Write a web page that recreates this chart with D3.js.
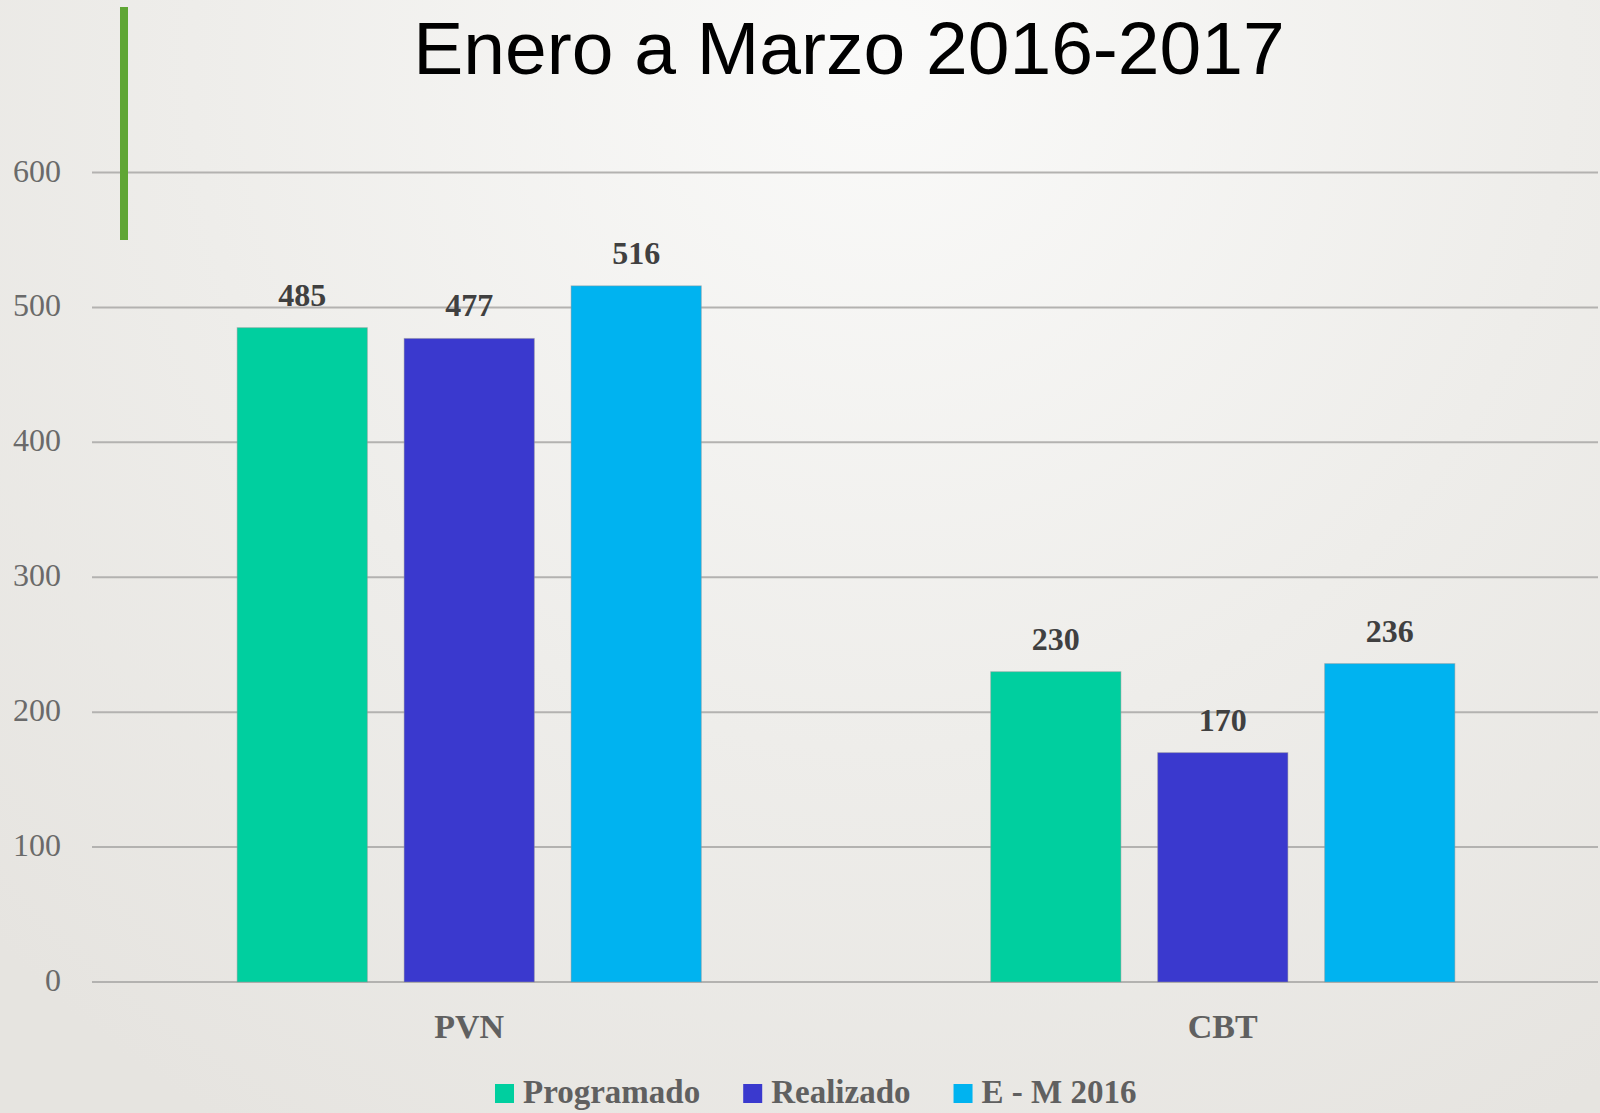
<!DOCTYPE html>
<html>
<head>
<meta charset="utf-8">
<script src="https://cdnjs.cloudflare.com/ajax/libs/d3/7.8.5/d3.min.js"></script>
<style>
  html, body { margin: 0; padding: 0; overflow: hidden; }
  svg { display: block; }
</style>
</head>
<body>
<div id="chart"></div>
<script>
var categories = ["PVN", "CBT"];
var series = ["Programado", "Realizado", "E - M 2016"];
var programado = [485, 230];
var realizado = [477, 170];
var em2016 = [516, 236];
var yTicks = [0, 100, 200, 300, 400, 500, 600];
var colors = ["#00CF9F", "#3A39CE", "#00B3F0"];

var width = 1600, height = 1113;
var values = [programado, realizado, em2016];

var svg = d3.select("#chart").append("svg")
    .attr("width", width)
    .attr("height", height);

// background, lighter near the top centre
var defs = svg.append("defs");
var grad = defs.append("radialGradient")
    .attr("id", "bg")
    .attr("gradientUnits", "userSpaceOnUse")
    .attr("cx", 880).attr("cy", 60).attr("r", 1250);
grad.append("stop").attr("offset", "0%").attr("stop-color", "#fafaf9");
grad.append("stop").attr("offset", "55%").attr("stop-color", "#eeedea");
grad.append("stop").attr("offset", "100%").attr("stop-color", "#e6e4e0");

svg.append("rect")
    .attr("width", width).attr("height", height)
    .attr("fill", "url(#bg)");

var x0 = d3.scaleBand()
    .domain(categories)
    .range([92, 1600])
    .paddingInner(0.384)
    .paddingOuter(0.1926);

var x1 = d3.scaleBand()
    .domain(series)
    .range([0, x0.bandwidth()])
    .paddingInner(0.22);

var y = d3.scaleLinear()
    .domain([0, 600])
    .range([982, 172.5]);

// gridlines
svg.append("g").selectAll("line")
    .data(yTicks)
    .enter().append("line")
    .attr("x1", 92).attr("x2", 1598)
    .attr("y1", function(d) { return y(d); })
    .attr("y2", function(d) { return y(d); })
    .attr("stroke", "#b3b2b0")
    .attr("stroke-width", 2);

// y tick labels
svg.append("g").selectAll("text")
    .data(yTicks)
    .enter().append("text")
    .attr("x", 61)
    .attr("y", function(d) { return y(d) + 9; })
    .attr("text-anchor", "end")
    .attr("font-family", "Liberation Serif, serif")
    .attr("font-size", 32)
    .attr("fill", "#6a6a6a")
    .text(function(d) { return d; });

// bars
var groups = svg.append("g").selectAll("g")
    .data(categories)
    .enter().append("g")
    .attr("transform", function(d) { return "translate(" + x0(d) + ",0)"; });

groups.selectAll("rect")
    .data(function(d, i) {
      return series.map(function(s, j) { return { s: s, v: values[j][i], c: colors[j] }; });
    })
    .enter().append("rect")
    .attr("x", function(d) { return x1(d.s); })
    .attr("y", function(d) { return y(d.v); })
    .attr("width", x1.bandwidth())
    .attr("height", function(d) { return y(0) - y(d.v); })
    .attr("fill", function(d) { return d.c; })
    .attr("stroke", "rgba(150,150,150,0.45)")
    .attr("stroke-width", 1);

groups.selectAll("text")
    .data(function(d, i) {
      return series.map(function(s, j) { return { s: s, v: values[j][i] }; });
    })
    .enter().append("text")
    .attr("x", function(d) { return x1(d.s) + x1.bandwidth() / 2; })
    .attr("y", function(d) { return y(d.v) - 22; })
    .attr("text-anchor", "middle")
    .attr("font-family", "Liberation Serif, serif")
    .attr("font-weight", "bold")
    .attr("font-size", 32)
    .attr("fill", "#404040")
    .text(function(d) { return d.v; });

// category labels
svg.append("g").selectAll("text")
    .data(categories)
    .enter().append("text")
    .attr("x", function(d) { return x0(d) + x0.bandwidth() / 2; })
    .attr("y", 1038)
    .attr("text-anchor", "middle")
    .attr("font-family", "Liberation Serif, serif")
    .attr("font-weight", "bold")
    .attr("font-size", 34)
    .attr("fill", "#606060")
    .text(function(d) { return d; });

// legend
var legend = svg.append("g");
var lx = 495;
series.forEach(function(s, i) {
  legend.append("rect")
      .attr("x", lx).attr("y", 1084)
      .attr("width", 19).attr("height", 19)
      .attr("fill", colors[i]);
  var t = legend.append("text")
      .attr("x", lx + 28).attr("y", 1103)
      .attr("font-family", "Liberation Serif, serif")
      .attr("font-weight", "bold")
      .attr("font-size", 33)
      .attr("fill", "#606060")
      .text(s);
  lx = lx + 28 + t.node().getComputedTextLength() + 43;
});

// green accent bar
svg.append("rect")
    .attr("x", 120).attr("y", 7)
    .attr("width", 8).attr("height", 233)
    .attr("fill", "#5FA634");

// title
svg.append("text")
    .attr("x", 849)
    .attr("y", 74)
    .attr("text-anchor", "middle")
    .attr("font-family", "Liberation Sans, Arial, sans-serif")
    .attr("font-size", 75)
    .attr("fill", "#000")
    .text("Enero a Marzo 2016-2017");
</script>
</body>
</html>
